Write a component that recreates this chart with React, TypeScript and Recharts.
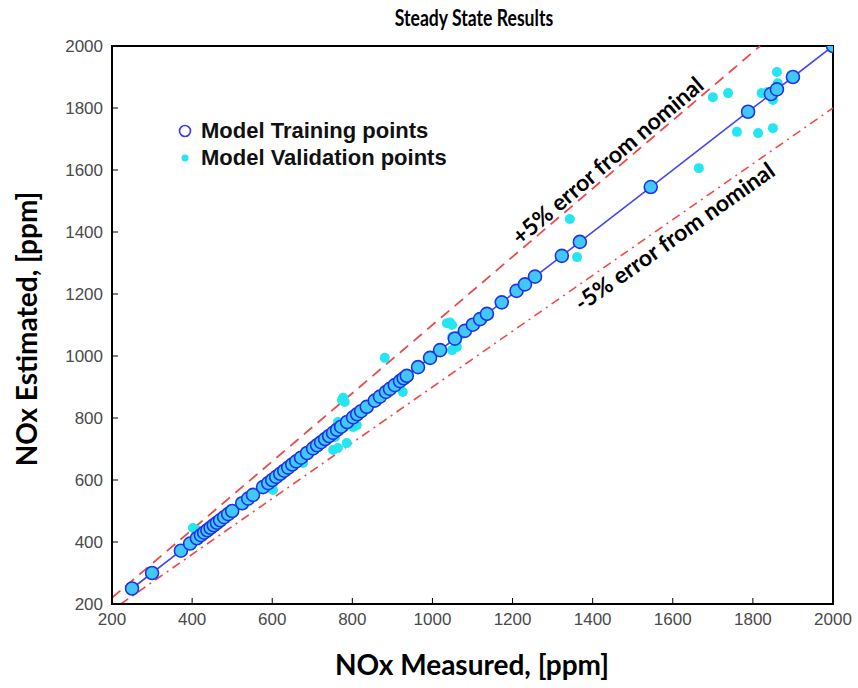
import {
  ScatterChart,
  Scatter,
  XAxis,
  YAxis,
  ReferenceLine,
  ReferenceArea,
} from "recharts";

// axis ticks
const xTicks = [200, 400, 600, 800, 1000, 1200, 1400, 1600, 1800, 2000];
const yTicks = [200, 400, 600, 800, 1000, 1200, 1400, 1600, 1800, 2000];

// model training points (measured vs estimated, they sit on the 1:1 line)
const trainMeasured = [
  250, 300, 372, 395, 412, 422, 430, 438, 446, 454, 462, 470, 480, 490, 500,
  525, 540, 552, 577, 590, 600, 610, 620, 630, 640, 650, 660, 672, 687, 702,
  712, 722, 732, 742, 752, 762, 772, 787, 802, 812, 822, 836, 856, 869, 884,
  894, 906, 919, 928, 936, 964, 994, 1019, 1056, 1081, 1101, 1119, 1136, 1173,
  1210, 1231, 1256, 1323, 1368, 1545, 1788, 1845, 1860, 1900, 2000,
];
const trainEstimated = [
  250, 300, 372, 395, 412, 422, 430, 438, 446, 454, 462, 470, 480, 490, 500,
  525, 540, 552, 577, 590, 600, 610, 620, 630, 640, 650, 660, 672, 687, 702,
  712, 722, 732, 742, 752, 762, 772, 787, 802, 812, 822, 836, 856, 869, 884,
  894, 906, 919, 928, 936, 964, 994, 1019, 1056, 1081, 1101, 1119, 1136, 1173,
  1210, 1231, 1256, 1323, 1368, 1545, 1788, 1845, 1860, 1900, 2000,
];

// model validation points
const valMeasured = [
  402, 412, 602, 677, 752, 764, 757, 786, 764, 781, 811, 802, 774, 781, 777,
  881, 926, 1036, 1049, 1044, 1049, 1069, 1049, 1061, 1343, 1361, 1665, 1700,
  1738, 1760, 1813, 1850, 1822, 1835, 1850, 1862, 1860,
];
const valEstimated = [
  445, 439, 568, 655, 697, 703, 739, 719, 787, 771, 777, 771, 858, 852, 865,
  994, 884, 1106, 1100, 1108, 1061, 1068, 1019, 1029, 1442, 1319, 1606, 1835,
  1848, 1723, 1719, 1735, 1848, 1851, 1826, 1880, 1916,
];

// error bands drawn as lines
const upperBand = [
  { x: 200, y: 220 },
  { x: 1818, y: 2000 },
];
const lowerBand = [
  { x: 222, y: 200 },
  { x: 2000, y: 1800 },
];

const trainData = trainMeasured.map((m, i) => ({ x: m, y: trainEstimated[i] }));
const valData = valMeasured.map((m, i) => ({ x: m, y: valEstimated[i] }));

const TrainDot = (props: any) => (
  <circle
    cx={props.cx}
    cy={props.cy}
    r={6.5}
    fill="#42c8f6"
    stroke="#1f33e6"
    strokeWidth={1.6}
  />
);

const ValDot = (props: any) => (
  <circle cx={props.cx} cy={props.cy} r={5} fill="#25e6f0" />
);

const textFont = "Lato";

export default function App() {
  return (
    <div style={{ position: "absolute", left: 0, top: 0, width: 858, height: 688, background: "#fff" }}>
      <ScatterChart
        width={858}
        height={688}
        margin={{ top: 46, right: 25, bottom: 44, left: 62 }}
      >
        <XAxis
          type="number"
          dataKey="x"
          domain={[200, 2000]}
          ticks={xTicks}
          allowDataOverflow
          height={40}
          tickSize={-6}
          tickMargin={15}
          axisLine={{ stroke: "#000", strokeWidth: 2 }}
          tickLine={{ stroke: "#000" }}
          tick={{ fontSize: 17, fill: "#4a4a4a", fontFamily: "Liberation Sans" }}
        />
        <YAxis
          type="number"
          dataKey="y"
          domain={[200, 2000]}
          ticks={yTicks}
          allowDataOverflow
          width={50}
          tickSize={-6}
          tickMargin={15}
          axisLine={{ stroke: "#000", strokeWidth: 2 }}
          tickLine={{ stroke: "#000" }}
          tick={{ fontSize: 17, fill: "#4a4a4a", fontFamily: "Liberation Sans" }}
        />
        <ReferenceArea
          x1={200}
          x2={2000}
          y1={200}
          y2={2000}
          fill="none"
          stroke="#000"
          strokeWidth={2}
        />
        <ReferenceLine
          segment={upperBand}
          stroke="#f04848"
          strokeWidth={1.8}
          strokeDasharray="11 7"
        />
        <ReferenceLine
          segment={lowerBand}
          stroke="#f04848"
          strokeWidth={1.6}
          strokeDasharray="9 5 2 5"
        />
        <Scatter
          name="Model Validation points"
          data={valData}
          shape={ValDot}
          isAnimationActive={false}
        />
        <Scatter
          name="Model Training points"
          data={trainData}
          shape={TrainDot}
          line={{ stroke: "#4646ee", strokeWidth: 1.6 }}
          isAnimationActive={false}
        />
      </ScatterChart>

      {/* legend */}
      <div
        style={{
          position: "absolute",
          left: 176,
          top: 117,
          fontFamily: "Liberation Sans",
          fontWeight: "bold",
          fontSize: 22,
          color: "#111",
          lineHeight: "27px",
        }}
      >
        <div style={{ display: "flex", alignItems: "center" }}>
          <svg width={18} height={16}>
            <circle cx={9} cy={8} r={5.5} fill="none" stroke="#3a3ae0" strokeWidth={1.6} />
          </svg>
          <span style={{ marginLeft: 7 }}>Model Training points</span>
        </div>
        <div style={{ display: "flex", alignItems: "center" }}>
          <svg width={18} height={16}>
            <circle cx={9} cy={8} r={3.5} fill="#25e6f0" />
          </svg>
          <span style={{ marginLeft: 7 }}>Model Validation points</span>
        </div>
      </div>

      <div
        style={{
          position: "absolute",
          left: 474,
          top: 17,
          transform: "translate(-50%, -50%) scaleX(0.8)",
          fontFamily: textFont,
          fontWeight: "bold",
          fontSize: 22,
          whiteSpace: "nowrap",
        }}
      >
        Steady State Results
      </div>
      <div
        style={{
          position: "absolute",
          left: 472,
          top: 664,
          transform: "translate(-50%, -50%)",
          fontFamily: textFont,
          fontWeight: "bold",
          fontSize: 28,
          whiteSpace: "nowrap",
        }}
      >
        NOx Measured, [ppm]
      </div>
      <div
        style={{
          position: "absolute",
          left: 26,
          top: 329,
          transform: "translate(-50%, -50%) rotate(-90deg)",
          fontFamily: textFont,
          fontWeight: "bold",
          fontSize: 28,
          whiteSpace: "nowrap",
        }}
      >
        NOx Estimated, [ppm]
      </div>
      <div
        style={{
          position: "absolute",
          left: 607,
          top: 160,
          transform: "translate(-50%, -50%) rotate(-40.6deg)",
          fontFamily: textFont,
          fontWeight: "bold",
          fontSize: 23,
          whiteSpace: "nowrap",
        }}
      >
        +5% error from nominal
      </div>
      <div
        style={{
          position: "absolute",
          left: 674,
          top: 236,
          transform: "translate(-50%, -50%) rotate(-35.3deg)",
          fontFamily: textFont,
          fontWeight: "bold",
          fontSize: 23,
          whiteSpace: "nowrap",
        }}
      >
        -5% error from nominal
      </div>
    </div>
  );
}
